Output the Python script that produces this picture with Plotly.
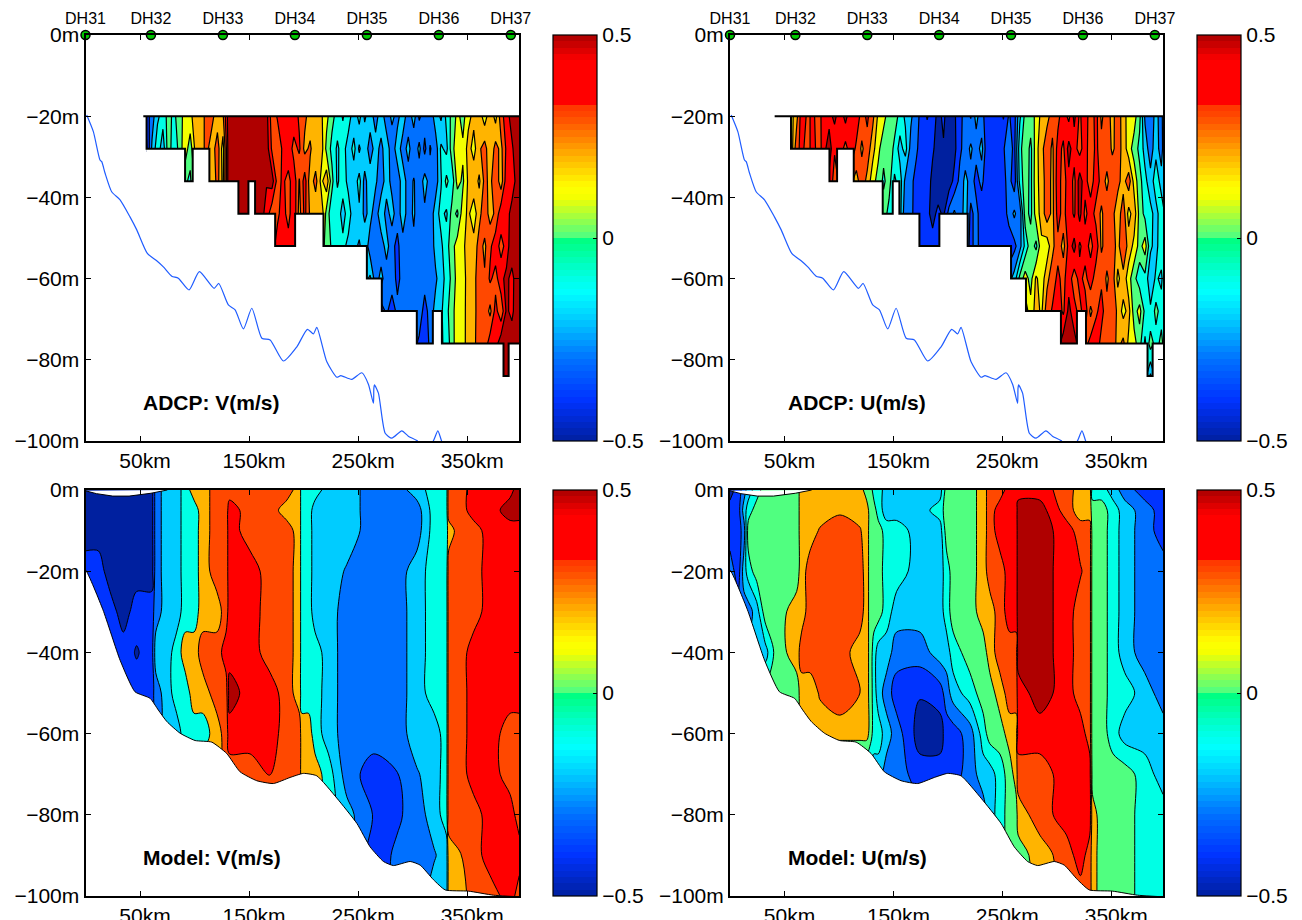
import plotly.graph_objects as go

# ---- band values (m/s) used when reading the contour maps
N, B, A, S, C, G, Y, O, F, R, D = -0.45, -0.35, -0.25, -0.15, -0.05, 0.05, 0.15, 0.25, 0.35, 0.45, 0.55

stations_km = [0, 60, 126, 192, 258, 324, 390]
stations = ["DH31", "DH32", "DH33", "DH34", "DH35", "DH36", "DH37"]
xticks = [50, 150, 250, 350]
xticktext = ["50km", "150km", "250km", "350km"]
yticks = [0, -20, -40, -60, -80, -100]
yticktext = ["0m", "\u221220m", "\u221240m", "\u221260m", "\u221280m", "\u2212100m"]

# ---- bottom seen in the ADCP panels
track_km = [1.1, 7.2, 13.3, 14.9, 17.9, 24, 31.7, 40.8, 47, 56.7, 65.3, 71.4, 79.1, 85.1, 95, 104.4, 117.9, 122.2, 131, 137.2, 144.8, 152.5, 161.7, 169.3, 181.5, 193.8, 203.5, 209, 212.1, 221.3, 230.5, 234.1, 244.2, 253.4, 259.4, 264, 264.4, 265, 268.6, 274.8, 280.9, 290, 296, 303.9, 310.6, 318.5, 323.1, 326.8, 335, 397]
track_m = [-19.7, -23.8, -30.8, -31.2, -34, -38.6, -40.6, -44.8, -48, -53.8, -55.6, -57.1, -59.4, -59.9, -62.8, -58.3, -62.4, -61.2, -66.5, -67.7, -72.4, -67.3, -74.7, -75.1, -80.3, -76.8, -72.5, -73.6, -72, -80.5, -84.3, -83.9, -84.8, -83.2, -86, -90.7, -87, -86.2, -88.2, -98.1, -99.3, -97.5, -98.8, -99.9, -102, -100.2, -97.5, -100.2, -104, -110]

# ---- bottom of the model
seabed_km = [0, 16, 31.7, 45.4, 59.2, 66.8, 74.5, 86.7, 100.5, 115.8, 129.5, 141.7, 157, 172.3, 187.6, 199.8, 212.1, 230.5, 248.8, 261, 273.2, 282.4, 297.7, 306.9, 319.1, 329.8, 351.2, 374.1, 398]
seabed_m = [-19.7, -29.5, -41.9, -49.7, -51.3, -54.2, -57, -59.9, -61.7, -62.1, -64.9, -69.4, -71.6, -72.3, -70.8, -69.8, -70.4, -75.9, -82.1, -87.9, -91.5, -92.5, -91.5, -92.4, -96, -98.5, -98.8, -99.8, -100.2]
surface_km = [0, 10, 25, 40, 60, 75]
surface_m = [-0.2, -0.9, -1.5, -1.5, -0.8, 0]

# ---- deepest ADCP bin along the track
floor_km = [56, 91.3, 98.3, 113.6, 140.2, 149.4, 155.5, 173.9, 192.2, 218.2, 258, 271.7, 303.8, 318.5, 326.8, 383.3, 388]
floor_m = [-28, -36, -28, -36, -44, -36, -44, -52, -44, -52, -60, -68, -76, -68, -76, -84, -76]

# ---- ADCP grids, hundredths of m/s
adcp_km = list(range(56, 397, 5)) + [398]
adcp_m = [-20, -28, -36, -44, -52, -60, -68, -76, -84]
_ = None

v20 = [-35,-25,-12,-6,4,-3,6,13,17,26, 22,36,33,24,28,55,56,57,55,56, 55,56,54,34,41,45,46,47,38,33, 24,27,22,13,3,-4,-11,-3,-18,-6, -22,-13,-26,-12,-28,-17,-24,-13,-27,-15, -32,-24,-28,-14,-22,-7,3,13,6,17, 23,26,14,28,16,36,45,55,56,57]
v28 = [-42,-18,-4,-16,6,-7,3,17,4,24, 26,33,24,36,15,54,57,55,58,54, 56,52,56,38,33,42,48,36,42,27, 32,21,26,7,-3,-12,-4,-17,-6,-22, -11,-27,-14,-24,-12,-28,-13,-26,-16,-29, -17,-33,-19,-26,-8,-13,6,17,12,24, 16,28,35,21,34,27,42,48,58,55]
v36 = [_]*6 + [-6,2,-2,14] + [_] + [28,21,34,17,54,56,58,54,57,55, 57,51,55,36,42,36,47,29,45,24, 34,17,27,3,-12,-3,-14,-17,-6,-24, -12,-18,-27,-14,-24,-28,-13,-26,-19,-27, -16,-24,-26,-11,3,-7,14,8,22,27, 18,33,27,38,24,46,41,57,54]
v44 = [_]*16 + [55,56,52,55,58,54,46,33,38,44, 36,48,26,43,28,22,29,6,-7,-2, -16,-3,-18,-12,-23,-16,-27,-11,-25,-15, -27,-13,-26,-18,-29,-22,-28,-14,-7,-12, 4,-2,16,22,14,27,36,26,32,47, 43,56,58,54]
v52 = [_]*23 + [36,44,46,45,47,42] + [_]*3 + [14,7,-2,-8,-6,-14,-16,-22,-12,-26, -24,-27,-15,-28,-32,-25,-27,-23,-29,-26, -28,-16,-12,-4,6,15,17,26,24,34, 28,38,46,36,44,58,52,56]
v60 = [_]*40 + [-14,-8,-26,-16,-27,-24,-33,-26,-28,-24, -27,-26,-29,-22,-14,-7,3,14,16,24, 27,35,31,42,36,47,53,46,58,55]
v68 = [_]*42 + [-27,-35,-28,-36,-27,-25,-29,-27, -24,-34,-26,-16,-12,-3,6,16,14,27, 26,36,38,27,44,32,52,47,58,56]
v76 = [_]*49 + [-27,-32,-36,-28,-16,-12,-6,5,17,15,26,27,36,33,46,45,57,55,57,55,56]
v84 = [_]*65 + [55,58,55] + [_]*2

u20 = [16,26,47,38,42,36,44,46,53,43, 54,41,46,36,42,33,18,14,4,6, -4,-12,-18,-27,-33,-41,-35,-43,-38,-46, -41,-36,-22,-31,-16,-28,-33,-38,-32,-41, -29,-34,-12,3,6,12,24,27,34,37, 46,37,53,38,47,33,44,28,36,26, 37,24,16,14,3,-22,-27,-16,-26,-12]
u28 = [13,36,44,33,47,33,46,56,41,46, 36,47,38,28,36,24,13,3,8,-3, -14,-6,-24,-28,-36,-32,-38,-46,-41,-47, -43,-32,-26,-18,-26,-16,-38,-33,-37,-31, -24,-33,-4,8,-3,16,27,36,28,44, 38,54,44,36,46,32,43,33,37,28, 34,27,14,6,-3,-14,-26,-13,-27,-14]
u36 = [_]*6 + [44,47,36,42] + [_] + [32,26,36,27,14,6,-2,5,-12,-5, -23,-27,-34,-38,-33,-44,-48,-42,-46,-37, -27,-17,-24,-34,-27,-38,-32,-37,-33,-26, -36,-7,6,-3,17,24,36,27,46,34, 47,37,55,44,34,46,36,27,38,33, 26,36,16,4,-7,-16,-4,-14,-18]
u44 = [_]*16 + [3,6,-4,-13,-6,-28,-26,-37,-33,-37, -44,-37,-42,-26,-18,-28,-14,-33,-26,-37, -31,-38,-33,-36,-26,-18,-27,5,-3,15, 24,36,27,44,36,47,38,54,37,46, 36,28,37,33,24,36,16,26,6,-3, -7,-14,-4,-8]
u52 = [_]*23 + [-36,-33,-37,-35,-38,-33] + [_]*3 + [-23,-33,-26,-36,-31,-38,-35,-32,-37,-33, -24,-7,6,-3,18,14,27,37,26,44, 54,38,46,36,47,28,36,34,27,38, 26,17,6,15,-8,-14,-2,-6]
u60 = [_]*40 + [-24,-16,3,15,6,22,14,27,36,42, 37,46,34,44,36,47,33,38,28,36, 17,27,14,3,-6,-3,-18,-8,-13,-4]
u68 = [_]*42 + [17,6,14,24,18,36,41,46, 38,53,44,36,47,27,38,44,33,36, 28,16,24,5,14,-3,-8,3,-4,-6]
u76 = [_]*49 + [46,56,58,54,46,36,44,47,36,34,37,26,33,17,14,4,-12,5,-4,3,-2]
u84 = [_]*65 + [-6,-22,-6] + [_]*2

# ---- model grids, m/s
model_m = [0, -5, -10, -20, -30, -40, -50, -60, -70, -80, -90, -100]
mv_km = [0, 11.8, 22.5, 34.7, 46.9, 60.7, 64.4, 74.5, 83.6, 91.6, 99.5, 107.5, 120.4, 128.9, 132, 150.9, 169.3, 184.6, 196.2, 198.3, 204.5, 210.5, 222.8, 239.6, 264, 285.5, 303.8, 319.7, 331, 332.9, 343.6, 355.8, 371, 389.4, 397.7]
mv0 = [N,N,N,N,N,N,A,S,S,C,O,O,F,F,F,F,F,F,O,C,C,C,S,S,A,A,S,C,C,F,F,R,R,0.47,D]
mv5 = [N,N,N,N,N,N,A,S,S,C,C,O,F,F,R,F,F,O,O,C,C,S,S,S,A,A,A,C,C,F,F,R,R,D,D]
mv10 = [N,N,N,N,N,N,A,S,S,C,C,O,F,F,R,F,F,F,O,C,C,S,S,S,A,A,A,C,C,O,F,F,R,R,R]
mv20 = [B,B,N,N,N,N,A,S,S,C,C,O,F,F,R,R,F,F,O,C,C,S,S,-0.21,A,A,S,C,C,F,F,F,R,R,R]
mv30 = [B,B,B,N,B,B,A,S,S,C,C,O,O,F,R,R,F,F,O,C,C,S,S,A,A,A,S,C,C,F,F,F,R,R,R]
mv40 = [B,B,B,B,-0.41,B,S,S,C,O,O,F,F,R,R,R,F,F,O,C,C,C,S,A,A,A,S,C,C,F,F,R,R,R,R]
mv50 = [B,B,B,B,B,B,A,S,C,C,O,O,F,F,D,R,R,F,O,C,C,C,S,A,A,A,S,C,C,F,F,R,R,R,R]
mv60 = [A,A,A,A,A,A,A,S,S,C,C,C,O,F,R,R,R,F,F,O,O,C,S,A,A,A,S,S,C,F,F,R,R,F,F]
mv70 = [S,S,S,S,S,S,S,S,S,C,C,O,O,F,F,F,0.405,F,F,O,O,O,C,A,B,-0.305,-0.21,S,C,F,F,R,R,F,F]
mv80 = [S,S,S,S,S,S,S,S,S,C,C,O,O,F,F,F,F,F,F,O,O,O,C,-0.16,-0.305,-0.32,A,S,C,F,F,F,R,R,F]
mv90 = [S,S,S,S,S,S,S,S,S,C,C,O,O,F,F,F,F,F,F,O,O,O,C,-0.16,-0.36,-0.28,A,-0.21,S,O,0.295,F,R,R,R]
mv100 = [S,S,S,S,S,S,S,S,S,C,C,O,O,F,F,F,F,F,F,O,O,O,C,-0.16,-0.36,-0.28,A,S,S,O,O,F,F,R,F]

mu_km = [0, 7.6, 12.8, 16.8, 24.5, 32.1, 42.8, 61.2, 65.7, 73.4, 82.6, 100.9, 119.3, 125.4, 129, 132.1, 136.1, 143.7, 152.9, 174.3, 192.7, 198.8, 204.9, 220.2, 232.4, 238.5, 247.7, 256.9, 262.7, 264.5, 284.4, 308.9, 321.7, 330.3, 332.7, 341, 351.7, 362.4, 380.7, 397.6]
mu0 = [N,B,A,S,C,G,G,G,O,O,O,O,O,G,G,C,C,S,S,S,S,G,G,G,O,F,F,R,R,R,R,F,O,O,C,C,S,A,B,B]
mu5 = [B,B,S,C,G,G,G,G,O,O,O,0.285,O,O,G,G,C,S,S,S,C,G,G,G,O,F,R,R,R,D,D,F,O,O,G,G,C,S,A,B]
mu10 = [B,B,A,G,G,G,G,G,O,O,0.31,F,0.31,O,G,G,G,C,C,S,S,G,G,G,O,F,R,R,R,D,D,R,F,F,G,G,C,S,A,B]
mu20 = [A,B,S,C,G,G,G,G,O,F,F,F,F,O,G,G,G,C,C,S,S,C,G,G,O,F,F,R,R,D,D,R,0.41,F,G,G,C,S,A,A]
mu30 = [A,A,A,A,S,G,G,O,O,F,F,F,F,O,G,G,G,C,S,S,S,C,G,G,O,O,F,R,R,D,D,R,F,F,G,G,C,S,A,A]
mu40 = [S,S,S,S,S,S,G,O,F,F,F,F,O,O,G,C,S,S,A,A,S,S,C,G,G,O,F,F,F,D,D,R,F,F,G,G,C,S,A,A]
mu50 = [G,G,G,G,G,G,G,G,O,O,0.31,0.36,0.30,O,G,C,S,A,B,-0.39,B,A,S,C,G,G,O,F,F,R,D,R,F,F,G,G,C,C,S,A]
mu60 = [O,O,O,O,O,O,O,O,O,O,O,O,O,O,G,C,C,S,A,N,N,B,B,A,C,G,G,O,O,R,R,R,R,F,G,G,C,S,S,S]
mu70 = [S,S,S,S,S,S,S,S,S,S,S,S,S,S,S,S,S,A,A,B,B,B,B,A,S,S,C,G,O,F,F,R,R,R,G,G,G,G,C,S]
mu80 = [A,A,A,A,A,A,A,A,A,A,A,A,A,A,A,A,A,A,A,A,A,A,A,A,A,S,C,G,G,O,F,R,R,R,O,G,G,G,C,C]
mu90 = [A,A,A,A,A,A,A,A,A,A,A,A,A,A,A,A,A,A,A,A,A,A,A,A,A,S,C,G,G,G,O,F,R,F,O,G,G,G,C,C]
mu100 = [A,A,A,A,A,A,A,A,A,A,A,A,A,A,A,A,A,A,A,A,A,A,A,A,A,S,C,G,G,G,O,F,F,F,O,G,G,G,C,C]

# ---- colours
NAVY, BLUE, AZURE, SKY, CYAN, MINT, YELLOW, AMBER, ORANGE, RED, MAROON = (
    "#00209f", "#0033ff", "#0070ff", "#00ccff", "#00ffe5", "#50ff80",
    "#f4ff00", "#ffb400", "#ff4800", "#ff0000", "#af0000")
bands_all = [NAVY, NAVY, BLUE, AZURE, SKY, CYAN, MINT, YELLOW, AMBER, ORANGE, RED, MAROON]
# the model panels skip empty classes, so a front between two distant classes is one line
bands_mv = [NAVY, NAVY, BLUE, AZURE, SKY, CYAN, AMBER, ORANGE, RED, MAROON, MAROON, MAROON]
bands_mu = [NAVY, NAVY, BLUE, AZURE, SKY, CYAN, MINT, AMBER, ORANGE, RED, MAROON, MAROON]
bar_ramp = [
    (-0.5, (0, 32, 159)), (-0.4, (0, 51, 255)), (-0.3, (0, 112, 255)), (-0.2, (0, 204, 255)),
    (-0.135, (0, 255, 255)), (-0.1, (0, 255, 229)), (-0.004, (0, 255, 128)), (0.004, (80, 255, 128)),
    (0.1, (244, 255, 0)), (0.125, (255, 255, 0)), (0.2, (255, 180, 0)), (0.3, (255, 72, 0)),
    (0.328, (255, 52, 0)), (0.336, (255, 0, 0)), (0.436, (255, 0, 0)), (0.5, (170, 0, 0))]


def ramp_at(v):
    for (a, ca), (b, cb) in zip(bar_ramp, bar_ramp[1:]):
        if a <= v <= b:
            t = (v - a) / (b - a)
            return "rgb(%d,%d,%d)" % tuple(round(p + (q - p) * t) for p, q in zip(ca, cb))
    return "rgb(170,0,0)"


bar_scale = []
for i in range(64):
    col = ramp_at(-0.5 + (i + 0.5) / 64)
    bar_scale += [[i / 64, col], [(i + 1) / 64, col]]


def band_scale(cols):
    return [[i / 11, c] for i, c in enumerate(cols)]


W, H = 1302.0, 920.0
FONT = "Liberation Sans, Arial, sans-serif"
panels = [(85.5, 519, 35, 441), (730, 1163, 35, 441), (85.5, 519, 490, 896), (730, 1163, 490, 896)]
bars_x = [552.5, 1197]
XMAX = 397.5

fig = go.Figure()


def contour(km, m, rows, bands, axis, smooth, width=1):
    fig.add_trace(go.Contour(
        x=km, y=m, z=rows, xaxis="x" + axis, yaxis="y" + axis, showscale=False, autocontour=False,
        contours=dict(start=-0.5, end=0.5, size=0.1, coloring="fill", showlines=True),
        colorscale=band_scale(bands), connectgaps=False,
        line=dict(color="black", width=width, smoothing=smooth), hoverinfo="skip"))


def poly(xs, ys, axis, fill=None, line=None, shape="linear", width=1, smoothing=None):
    ln = dict(color=line or "white", width=width, shape=shape)
    if smoothing:
        ln["smoothing"] = smoothing
    fig.add_trace(go.Scatter(
        x=xs, y=ys, xaxis="x" + axis, yaxis="y" + axis, mode="lines" if line else "none",
        fill="toself" if fill else None, fillcolor=fill,
        line=ln, hoverinfo="skip", showlegend=False))


def scaled(rows):
    return [[None if v is None else v / 100 for v in r] for r in rows]


def closed_up(rows, gap):
    return [[v - gap if v >= gap else v for v in r] for r in rows]


adcp_v = scaled([v20, v28, v36, v44, v52, v60, v68, v76, v84])
adcp_u = scaled([u20, u28, u36, u44, u52, u60, u68, u76, u84])
model_v = closed_up([mv0, mv5, mv10, mv20, mv30, mv40, mv50, mv60, mv70, mv80, mv90, mv100], 0.2)
model_u = closed_up([mu0, mu5, mu10, mu20, mu30, mu40, mu50, mu60, mu70, mu80, mu90, mu100], 0.1)

adcp_starts = [53, 41]
for idx, (rows, axis) in enumerate([(adcp_v, ""), (adcp_u, "2")]):
    contour(adcp_km, adcp_m, rows, bands_all, axis, 0, 1.2)
    poly(floor_km + [402, 402, 50], floor_m + [-86, -86, -86], axis, fill="white", shape="hv")
    poly([56] + floor_km + [XMAX], [-20] + floor_m + [-76], axis, line="black", shape="hv", width=2)
    poly([adcp_starts[idx], XMAX], [-20, -20], axis, line="black", width=2)
    poly(track_km, track_m, axis, line="#1f5cff", width=1.2, shape="spline", smoothing=0.6)
    fig.add_trace(go.Scatter(
        x=stations_km, y=[0] * 7, text=stations, xaxis="x" + axis, yaxis="y" + axis, mode="markers+text",
        textposition="top center", textfont=dict(size=16, color="black", family=FONT), cliponaxis=False,
        marker=dict(size=9, color="#00c800", line=dict(color="black", width=1.5)), hoverinfo="skip", showlegend=False))

for (km, rows, bands, axis) in [(mv_km, model_v, bands_mv, "3"), (mu_km, model_u, bands_mu, "4")]:
    contour(km, model_m, rows, bands, axis, 0.9)
    poly([-3] + seabed_km + [403, 403, -3], [-19.7] + seabed_m + [-100.2, -106, -106], axis, fill="white", line="black", shape="spline", smoothing=0.5)
    poly(surface_km, surface_m, axis, fill="white", line="black")

# native colour bars, one per panel
for i, (l, r, t, b) in enumerate(panels):
    suffix = "" if i == 0 else str(i + 1)
    fig.add_trace(go.Scatter(
        x=[None, None], y=[None, None], xaxis="x" + suffix, yaxis="y" + suffix, mode="markers", showlegend=False,
        marker=dict(color=[-0.5, 0.5], cmin=-0.5, cmax=0.5, colorscale=bar_scale, showscale=True,
                    colorbar=dict(x=bars_x[i % 2] / W, xanchor="left", xpad=0, ypad=0,
                                  y=1 - (t + b) / 2 / H, yanchor="middle", lenmode="fraction", len=(b - t) / H,
                                  thicknessmode="pixels", thickness=44, outlinecolor="black", outlinewidth=1.2,
                                  tickvals=[-0.5, 0, 0.5], ticktext=["\u22120.5", "0", "0.5"],
                                  ticks="inside", ticklen=4, tickcolor="black",
                                  tickfont=dict(size=21, color="black", family=FONT)))))

layout = dict(
    width=1302, height=920, autosize=False, margin=dict(l=0, r=0, t=0, b=0, autoexpand=False), showlegend=False,
    paper_bgcolor="white", plot_bgcolor="white", font=dict(family=FONT, color="black"))
for i, (l, r, t, b) in enumerate(panels):
    s = "" if i == 0 else str(i + 1)
    layout["xaxis" + s] = dict(
        domain=[l / W, r / W], range=[0, XMAX], anchor="y" + s, tickvals=xticks, ticktext=xticktext,
        ticks="inside", ticklen=5, tickwidth=1, tickcolor="black", showline=True, linecolor="black", linewidth=2,
        mirror="ticks", showgrid=False, zeroline=False, tickfont=dict(size=21, color="black", family=FONT), ticklabelshift=5)
    layout["yaxis" + s] = dict(
        domain=[1 - b / H, 1 - t / H], range=[-100, 0], anchor="x" + s, tickvals=yticks, ticktext=yticktext,
        ticks="inside", ticklen=5, tickwidth=1, tickcolor="black", showline=True, linecolor="black", linewidth=2,
        mirror="ticks", showgrid=False, zeroline=False, tickfont=dict(size=21, color="black", family=FONT))
fig.update_layout(**layout)

labels = [("", "ADCP: V(m/s)", -90.5), ("2", "ADCP: U(m/s)", -90.5), ("3", "Model: V(m/s)", -90.5), ("4", "Model: U(m/s)", -90.5)]
for s, txt, y in labels:
    fig.add_annotation(x=51, y=y, xref="x" + s, yref="y" + s, text="<b>%s</b>" % txt, showarrow=False,
                       xanchor="left", yanchor="middle", font=dict(size=21, color="black", family=FONT))

fig.write_html("out.html", config={"displayModeBar": False}, post_script="document.body.style.margin='0';")
